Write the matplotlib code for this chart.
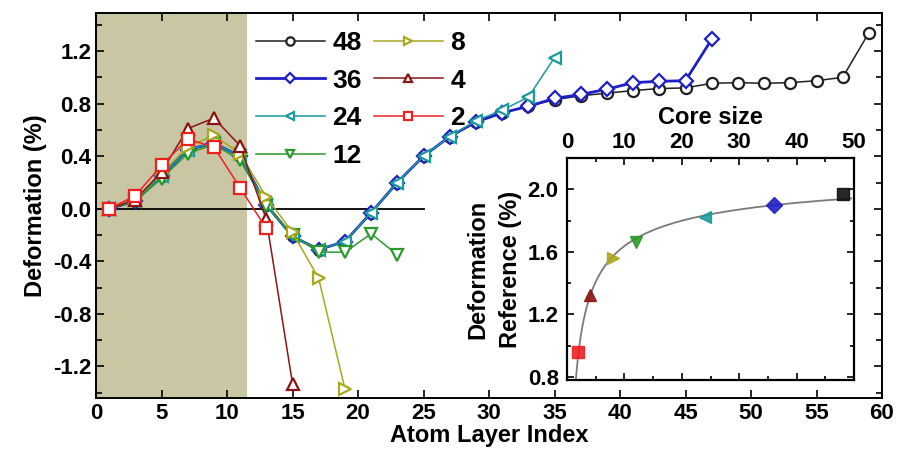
import numpy as np
import matplotlib
matplotlib.use("Agg")
import matplotlib.pyplot as plt
from matplotlib.ticker import MultipleLocator

plt.rcParams['font.family'] = ['Liberation Sans Narrow', 'Liberation Sans', 'DejaVu Sans']
plt.rcParams['font.weight'] = 'bold'
plt.rcParams['axes.labelweight'] = 'bold'

# ---------------- data ----------------
x48 = list(range(1, 60, 2))
y48 = [0.00, 0.06, 0.25, 0.45, 0.50, 0.40, 0.03, -0.21, -0.31, -0.25,
       -0.03, 0.20, 0.40, 0.55, 0.66, 0.73, 0.78, 0.83, 0.86, 0.88,
       0.90, 0.915, 0.92, 0.955, 0.96, 0.955, 0.96, 0.975, 1.00, 1.34]
x36 = list(range(1, 48, 2))
y36 = [0.00, 0.06, 0.25, 0.45, 0.50, 0.40, 0.03, -0.21, -0.31, -0.25,
       -0.03, 0.20, 0.40, 0.55, 0.66, 0.73, 0.78, 0.84, 0.87, 0.91,
       0.96, 0.97, 0.975, 1.29]
x24 = list(range(1, 36, 2))
y24 = [0.00, 0.06, 0.25, 0.45, 0.50, 0.40, 0.03, -0.21, -0.31, -0.25,
       -0.03, 0.20, 0.40, 0.55, 0.67, 0.75, 0.85, 1.15]
x12 = list(range(1, 24, 2))
y12 = [0.00, 0.06, 0.23, 0.42, 0.49, 0.37, 0.02, -0.20, -0.33, -0.33, -0.19, -0.35]
x8 = list(range(1, 20, 2))
y8 = [0.00, 0.07, 0.27, 0.47, 0.56, 0.42, 0.09, -0.18, -0.53, -1.37]
x4 = list(range(1, 16, 2))
y4 = [0.00, 0.07, 0.28, 0.61, 0.69, 0.48, -0.08, -1.33]
x2 = list(range(1, 14, 2))
y2 = [0.00, 0.10, 0.33, 0.53, 0.47, 0.16, -0.15]

labels = ['48', '36', '24', '12', '8', '4', '2']
colors = ['#202020', '#1f1fc8', '#1a9a9a', '#2a9a2a', '#a8a81e', '#8b1414', '#ee2020']
markers = ['o', 'D', '<', 'v', '>', '^', 's']
series_x = [x48, x36, x24, x12, x8, x4, x2]
series_y = [y48, y36, y24, y12, y8, y4, y2]

core_sizes = [2, 4, 8, 12, 24, 36, 48]
ref_values = [0.96, 1.325, 1.56, 1.66, 1.82, 1.90, 1.97]
inset_colors = ['#ee2020', '#8b1414', '#a8a81e', '#2a9a2a', '#1a9a9a', '#1f1fc8', '#101010']
inset_markers = ['s', '^', '>', 'v', '<', 'D', 's']

shade_end = 11.5
zero_line_end = 25

# ---------------- figure ----------------
W, H = 899, 458
fig = plt.figure(figsize=(W / 100, H / 100), dpi=100)
ax = fig.add_axes([96 / W, 1 - 398 / H, (882 - 96) / W, (398 - 13) / H])

ax.axvspan(0, shade_end, color='#c9c6a4', zorder=0, lw=0)
ax.plot([0, zero_line_end], [0, 0], color='black', lw=1.3, zorder=1)

for xs, ys, lab, c, m in zip(series_x, series_y, labels, colors, markers):
    lw = 2.0 if lab == '36' else 1.1
    ax.plot(xs, ys, color=c, lw=lw, marker=m, markersize=8 if m != 'D' else 7,
            markerfacecolor='white', markeredgecolor=c, markeredgewidth=1.6,
            label=lab, zorder=2)

ax.set_xlim(0, 60)
ax.set_ylim(-1.44, 1.49)
ax.xaxis.set_major_locator(MultipleLocator(5))
ax.yaxis.set_major_locator(MultipleLocator(0.4))
ax.yaxis.set_minor_locator(MultipleLocator(0.2))
ax.yaxis.set_major_formatter(matplotlib.ticker.FormatStrFormatter('%.1f'))
ax.tick_params(which='both', direction='in', top=True, right=True, labelsize=16, width=1.2)
ax.tick_params(which='major', length=6)
ax.tick_params(which='minor', length=4)
ax.tick_params(axis='x', which='minor', top=False, bottom=False)
for s in ax.spines.values():
    s.set_linewidth(1.4)
ax.set_xlabel('Atom Layer Index', fontsize=17, labelpad=0)
ax.set_ylabel('Deformation (%)', fontsize=17, labelpad=4)

leg = ax.legend(ncol=2, loc='upper left', bbox_to_anchor=(256 / W, 1 - 31 / H),
                bbox_transform=fig.transFigure, frameon=False, fontsize=19,
                handlelength=2.6, handletextpad=0.3, columnspacing=0.45,
                labelspacing=0.52, borderpad=0, borderaxespad=0, markerscale=0.75)

# ---------------- inset ----------------
axi = fig.add_axes([567 / W, 1 - 380 / H, (854 - 567) / W, (380 - 158) / H])
u = np.array(core_sizes, dtype=float) ** -0.5
coef = np.polyfit(u, ref_values, 1)
xf = np.linspace(1.2, 49.5, 400)
axi.plot(xf, np.polyval(coef, xf ** -0.5), color='#7a7a7a', lw=1.3, zorder=1)
for xc, yv, c, m in zip(core_sizes, ref_values, inset_colors, inset_markers):
    axi.plot([xc], [yv], marker=m, color=c, markersize=9 if m != 'D' else 8,
             markeredgecolor=c, linestyle='none', zorder=3, alpha=0.9)
axi.set_xlim(0, 50)
axi.set_ylim(0.78, 2.2)
axi.xaxis.set_major_locator(MultipleLocator(10))
axi.xaxis.set_minor_locator(MultipleLocator(5))
axi.yaxis.set_major_locator(MultipleLocator(0.4))
axi.yaxis.set_minor_locator(MultipleLocator(0.2))
axi.yaxis.set_major_formatter(matplotlib.ticker.FormatStrFormatter('%.1f'))
axi.xaxis.tick_top()
axi.xaxis.set_label_position('top')
axi.tick_params(which='both', direction='in', top=True, bottom=True, left=True, right=True,
                labeltop=True, labelbottom=False, labelsize=16, width=1.2)
axi.tick_params(axis='y', pad=6)
axi.tick_params(which='major', length=5)
axi.tick_params(which='minor', length=3)
for s in axi.spines.values():
    s.set_linewidth(1.6)
axi.set_xlabel('Core size', fontsize=17, labelpad=6)
axi.set_ylabel('Deformation\nReference (%)', fontsize=17, labelpad=4, linespacing=1.55)

fig.savefig('out.png', dpi=100)
